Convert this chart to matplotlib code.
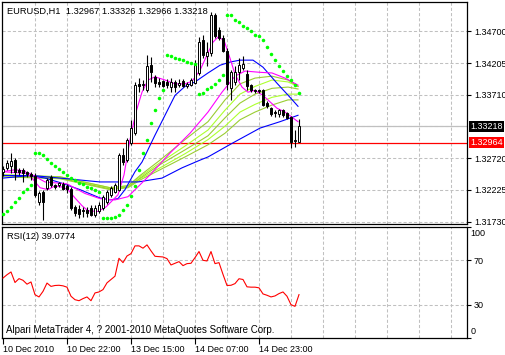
import matplotlib
matplotlib.use("Agg")
import matplotlib.pyplot as plt
from matplotlib.patches import Rectangle

plt.rcParams["font.family"] = ["Liberation Sans", "DejaVu Sans"]

# --- dados (EURUSD H1, 75 barras) ---
opens = [1.3251, 1.3257, 1.3260, 1.3269, 1.3254, 1.3254, 1.3251, 1.3248, 1.3245, 1.3203,
         1.3220, 1.3226, 1.3243, 1.3231, 1.3231, 1.3232, 1.3229, 1.3224, 1.3196, 1.3193,
         1.3192, 1.3192, 1.3195, 1.3184, 1.3189, 1.3195, 1.3204, 1.3215, 1.3220, 1.3223,
         1.3277, 1.3269, 1.3296, 1.3311, 1.3388, 1.3386, 1.3378, 1.3417, 1.3399, 1.3391,
         1.3392, 1.3391, 1.3383, 1.3391, 1.3386, 1.3392, 1.3385, 1.3386, 1.3389, 1.3405,
         1.3456, 1.3431, 1.3436, 1.3495, 1.3472, 1.3459, 1.3440, 1.3381, 1.3391, 1.3406,
         1.3413, 1.3403, 1.3386, 1.3378, 1.3378, 1.3378, 1.3358, 1.3350, 1.3344, 1.3341,
         1.3347, 1.3342, 1.3336, 1.3299, 1.32967]
highs = [1.3260, 1.3269, 1.3280, 1.3273, 1.3257, 1.3257, 1.3252, 1.3251, 1.3249, 1.3221,
         1.3223, 1.3241, 1.3246, 1.3232, 1.3235, 1.3235, 1.3232, 1.3227, 1.3199, 1.3199,
         1.3196, 1.3196, 1.3199, 1.3199, 1.3203, 1.3215, 1.3223, 1.3229, 1.3234, 1.3280,
         1.3288, 1.3304, 1.3332, 1.3391, 1.3397, 1.3394, 1.3433, 1.3430, 1.3402, 1.3397,
         1.3394, 1.3395, 1.3397, 1.3394, 1.3395, 1.3395, 1.3391, 1.3397, 1.3425, 1.3461,
         1.3464, 1.3453, 1.3500, 1.3498, 1.3476, 1.3464, 1.3444, 1.3409, 1.3416, 1.3428,
         1.3431, 1.3409, 1.3388, 1.3380, 1.3380, 1.3380, 1.3361, 1.3352, 1.3347, 1.3349,
         1.3349, 1.3344, 1.3338, 1.3316, 1.33326]
lows = [1.3245, 1.3254, 1.3249, 1.3238, 1.3246, 1.3235, 1.3243, 1.3238, 1.3212, 1.3199,
        1.3176, 1.3223, 1.3227, 1.3224, 1.3227, 1.3223, 1.3218, 1.3192, 1.3182, 1.3179,
        1.3181, 1.3181, 1.3182, 1.3181, 1.3187, 1.3192, 1.3201, 1.3212, 1.3217, 1.3221,
        1.3262, 1.3266, 1.3293, 1.3308, 1.3375, 1.3378, 1.3375, 1.3391, 1.3383, 1.3383,
        1.3383, 1.3381, 1.3375, 1.3375, 1.3383, 1.3383, 1.3381, 1.3385, 1.3388, 1.3402,
        1.3428, 1.3416, 1.3431, 1.3459, 1.3456, 1.3437, 1.3378, 1.3363, 1.3386, 1.3394,
        1.3409, 1.3378, 1.3375, 1.3374, 1.3374, 1.3353, 1.3350, 1.3338, 1.3336, 1.3336,
        1.3336, 1.3333, 1.3288, 1.3290, 1.32966]
closes = [1.3255, 1.3265, 1.3268, 1.3251, 1.3251, 1.3249, 1.3248, 1.3245, 1.3215, 1.3218,
          1.3203, 1.3238, 1.3231, 1.3227, 1.3234, 1.3224, 1.3224, 1.3195, 1.3187, 1.3185,
          1.3189, 1.3187, 1.3184, 1.3195, 1.3199, 1.3212, 1.3220, 1.3226, 1.3231, 1.3277,
          1.3266, 1.3301, 1.3319, 1.3386, 1.3385, 1.3388, 1.3416, 1.3406, 1.3389, 1.3388,
          1.3385, 1.3386, 1.3391, 1.3383, 1.3389, 1.3385, 1.3388, 1.3394, 1.3417, 1.3453,
          1.3433, 1.3437, 1.3495, 1.3462, 1.3459, 1.3440, 1.3388, 1.3406, 1.3406, 1.3417,
          1.3419, 1.3385, 1.3378, 1.3377, 1.3377, 1.3355, 1.3353, 1.3341, 1.3342, 1.3347,
          1.3339, 1.3335, 1.3297, 1.3300, 1.33218]

# Parabolic SAR (um ponto por barra)
sar = [1.3185, 1.3190, 1.3196, 1.3204, 1.3210, 1.3220, 1.3224, 1.3231, 1.3280, 1.3280,
       1.3277, 1.3271, 1.3265, 1.3260, 1.3255, 1.3251, 1.3246, 1.3241, 1.3238, 1.3234,
       1.3232, 1.3227, 1.3226, 1.3223, 1.3220, 1.3178, 1.3179, 1.3179, 1.3181, 1.3184,
       1.3192, 1.3199, 1.3213, 1.3229, 1.3254, 1.3280, 1.3300, 1.3327, 1.3347, 1.3366,
       1.3378, 1.3433, 1.3431, 1.3428, 1.3427, 1.3425, 1.3422, 1.3420, 1.3419, 1.3372,
       1.3374, 1.3380, 1.3383, 1.3388, 1.3394, 1.3402, 1.3496, 1.3495, 1.3487, 1.3484,
       1.3479, 1.3475, 1.3470, 1.3465, 1.3462, 1.3456, 1.3445, 1.3434, 1.3425, 1.3416,
       1.3408, 1.3400, 1.3394, 1.3386, 1.3374]

# RSI(12)
rsi = [54.0, 57.0, 59.5, 50.0, 53.5, 52.0, 48.5, 50.5, 39.0, 37.0,
       42.0, 49.5, 46.5, 47.3, 47.5, 47.0, 45.8, 37.6, 34.5, 33.6,
       35.5, 37.0, 33.6, 40.6, 41.5, 43.6, 49.7, 52.7, 55.7, 71.8,
       67.9, 73.9, 76.0, 83.0, 83.0, 80.9, 83.9, 78.5, 73.6, 73.3,
       73.0, 71.5, 65.8, 67.3, 68.8, 65.2, 67.0, 67.3, 72.4, 77.9,
       70.0, 69.4, 77.9, 67.0, 67.9, 57.3, 47.3, 47.5, 49.0, 53.4,
       52.7, 46.1, 45.8, 45.8, 45.2, 39.7, 38.5, 37.0, 37.9, 40.0,
       41.5, 37.6, 30.0, 28.5, 39.0774]

# médias móveis lidas em pontos-chave (índice da barra, preço)
ma_fast_x = [0, 3, 5.5, 7.25, 9.25, 11.25, 13, 14.75, 16.25, 18, 19.75, 21.25, 23.75, 25.75,
             27.5, 28.75, 30.25, 31.75, 33.25, 34.75, 36.25, 38, 40.5, 43, 45.5, 47.25, 49.25,
             51, 52.5, 53.75, 55.25, 56.75, 58, 59.75, 61.25, 63, 65, 66.75, 68.5, 70.5,
             72.25, 73.75]
ma_fast_y = [1.3251, 1.3254, 1.3252, 1.3241, 1.3226, 1.3223, 1.3229, 1.3227, 1.3223, 1.3210,
             1.3198, 1.3190, 1.3189, 1.3196, 1.3207, 1.3215, 1.3246, 1.3301, 1.3344, 1.3375,
             1.3394, 1.3399, 1.3394, 1.3388, 1.3388, 1.3392, 1.3409, 1.3433, 1.3453, 1.3461,
             1.3456, 1.3428, 1.3403, 1.3383, 1.3375, 1.3378, 1.3370, 1.3360, 1.3350, 1.3344,
             1.3336, 1.3329]
ma_mid_x = [0, 6.75, 10.5, 16, 20.5, 24.25, 28, 31.25, 36.75, 41.75, 46.75, 51.25, 54.75,
            58, 60.5, 64.25, 67.25, 70.5, 73.75]
ma_mid_y = [1.3251, 1.3248, 1.3235, 1.3232, 1.3217, 1.3209, 1.3207, 1.3212, 1.3246, 1.3280,
            1.3311, 1.3344, 1.3375, 1.3400, 1.3408, 1.3406, 1.3405, 1.3397, 1.3386]
blue_fast_x = [0, 6.75, 10.5, 14.25, 19.25, 24.25, 26.75, 28.75, 30.5, 33, 34.75, 38, 40.5,
               43, 45.5, 48, 51.25, 54.25, 56.75, 59.25, 62.5, 65, 68.5, 71.75, 73.75]
blue_fast_y = [1.3241, 1.3245, 1.3241, 1.3234, 1.3223, 1.3210, 1.3207, 1.3209, 1.3223, 1.3251,
               1.3266, 1.3308, 1.3339, 1.3370, 1.3384, 1.3391, 1.3405, 1.3417, 1.3422, 1.3425,
               1.3425, 1.3414, 1.3389, 1.3367, 1.3353]
blue_slow_x = [0, 7.5, 16, 24.25, 28.75, 33.75, 39.75, 44.75, 49.25, 51.25, 57.5, 64.25,
               69.25, 73.75]
blue_slow_y = [1.3245, 1.3245, 1.3240, 1.3235, 1.3235, 1.3235, 1.3241, 1.3257, 1.3269, 1.3274,
               1.3296, 1.3319, 1.3329, 1.3339]
green_x = [0, 14.25, 26.75, 31.25, 34.25, 39.25, 45.5, 51.25, 55.5, 59.25, 63, 67.25, 71.25, 73.75]
green1 = [1.3246, 1.3243, 1.3226, 1.3229, 1.3245, 1.3269, 1.3301, 1.3329, 1.3363, 1.3388,
          1.3397, 1.3400, 1.3394, 1.3384]
green2 = [1.3246, 1.3243, 1.3226, 1.3229, 1.3243, 1.3265, 1.3291, 1.3316, 1.3347, 1.3372,
          1.3384, 1.3394, 1.3391, 1.3384]
green3 = [1.3245, 1.3241, 1.3224, 1.3227, 1.3241, 1.3262, 1.3285, 1.3307, 1.3335, 1.3358,
          1.3372, 1.3381, 1.3383, 1.3380]
green4 = [1.3245, 1.3241, 1.3224, 1.3227, 1.3240, 1.3257, 1.3279, 1.3301, 1.3322, 1.3344,
          1.3356, 1.3367, 1.3372, 1.3372]
green5 = [1.3243, 1.3240, 1.3223, 1.3226, 1.3238, 1.3254, 1.3274, 1.3293, 1.3311, 1.3332,
          1.3344, 1.3355, 1.3363, 1.3363]

price_ticks = [1.34700, 1.34205, 1.33710, 1.32720, 1.32225, 1.31730]
grid_prices = [1.34700, 1.34205, 1.33710, 1.33215, 1.32720, 1.32225, 1.31730]
bid_price = 1.33218
line_price = 1.32964
date_pos = [0, 16, 32, 48, 64]
date_labels = ["10 Dec 2010", "10 Dec 22:00", "13 Dec 15:00", "14 Dec 07:00", "14 Dec 23:00"]

W, H = 505, 355
GRID = dict(color="#c0c0c0", lw=0.75, ls=(0, (3, 2)), zorder=0)
XMIN, XMAX = -0.25, 116

fig = plt.figure(figsize=(W / 100, H / 100), dpi=100)
ax = fig.add_axes([2 / W, 1 - 224 / H, 465 / W, 222 / H])
ax2 = fig.add_axes([2 / W, 1 - 338 / H, 465 / W, 111 / H])

for a in (ax, ax2):
    a.set_xlim(XMIN, XMAX)
    for s in a.spines.values():
        s.set_linewidth(0.9)
    for gx in range(8, 116, 8):
        a.axvline(gx, **GRID)

ax.set_ylim(1.31694, 1.35157)
for gp in grid_prices:
    ax.axhline(gp, **GRID)
ax.axhline(bid_price, color="#c0c0c0", lw=0.9, zorder=1)
ax.axhline(line_price, color="red", lw=0.9, zorder=1)

# médias móveis
for gy, col in zip([green5, green4, green3, green2, green1],
                   ["#9acd32", "#adff2f", "#9acd32", "#adff2f", "#9acd32"]):
    ax.plot(green_x, gy, color=col, lw=0.8, zorder=2)
ax.plot(blue_slow_x, blue_slow_y, color="blue", lw=0.8, zorder=2)
ax.plot(blue_fast_x, blue_fast_y, color="blue", lw=0.8, zorder=2)
ax.plot(ma_mid_x, ma_mid_y, color="magenta", lw=0.8, zorder=2)
ax.plot(ma_fast_x, ma_fast_y, color="magenta", lw=0.8, zorder=2)

# candles
for i, (o, h, l, c) in enumerate(zip(opens, highs, lows, closes)):
    ax.vlines(i, l, h, color="black", lw=0.8, zorder=3)
    bull = c >= o
    ax.add_patch(Rectangle((i - 0.3, min(o, c)), 0.6, max(abs(c - o), 0.00003),
                           facecolor="white" if bull else "black", edgecolor="black",
                           lw=0.7, zorder=4))

ax.scatter(range(len(sar)), sar, s=6.5, marker="o", color="#00ff00", linewidths=0, zorder=5)

ax.set_xticks([])
ax.yaxis.tick_right()
ax.set_yticks(price_ticks)
ax.set_yticklabels([f"{p:.5f}" for p in price_ticks])
ax.tick_params(axis="y", direction="out", length=3, width=0.8, pad=2, labelsize=6.5)

ax.annotate(f"{bid_price:.5f}", xy=(1, bid_price), xycoords=("axes fraction", "data"),
            xytext=(2.5, 0), textcoords="offset points", va="center", ha="left",
            fontsize=6.5, color="white",
            bbox=dict(boxstyle="square,pad=0.12", fc="black", ec="none"))
ax.annotate(f"{line_price:.5f}", xy=(1, line_price), xycoords=("axes fraction", "data"),
            xytext=(2.5, 0), textcoords="offset points", va="center", ha="left",
            fontsize=6.5, color="white",
            bbox=dict(boxstyle="square,pad=0.12", fc="red", ec="none"))

ax.text(5 / 465, 1 - 9 / 222, "EURUSD,H1  1.32967 1.33326 1.32966 1.33218",
        transform=ax.transAxes, fontsize=6.7, va="center", ha="left")

# painel RSI
ax2.set_ylim(0, 100)
for lvl in (70, 30):
    ax2.axhline(lvl, **GRID)
ax2.plot(range(len(rsi)), rsi, color="red", lw=0.8, zorder=3)
ax2.yaxis.tick_right()
ax2.set_yticks([100, 70, 30, 0])
ax2.set_yticklabels(["", "70", "30", ""])
ax2.tick_params(axis="y", direction="out", length=3, width=0.8, pad=2, labelsize=6.5)
ax2.text(1.008, 94.5, "100", transform=ax2.get_yaxis_transform(), fontsize=6.5, va="center")
ax2.text(1.008, 5.5, "0", transform=ax2.get_yaxis_transform(), fontsize=6.5, va="center")
ax2.set_xticks(date_pos)
ax2.set_xticklabels(date_labels)
ax2.tick_params(axis="x", direction="out", length=4, width=0.8, pad=1, labelsize=6.5)
for lbl in ax2.get_xticklabels():
    lbl.set_ha("left")
ax2.text(5 / 465, 1 - 10 / 111, "RSI(12) 39.0774", transform=ax2.transAxes,
         fontsize=6.7, va="center", ha="left")
ax2.text(4 / 465, 8 / 111, "Alpari MetaTrader 4, ? 2001-2010 MetaQuotes Software Corp.",
         transform=ax2.transAxes, fontsize=7.0, va="center", ha="left")

fig.savefig("out.png", dpi=100, facecolor="white")
